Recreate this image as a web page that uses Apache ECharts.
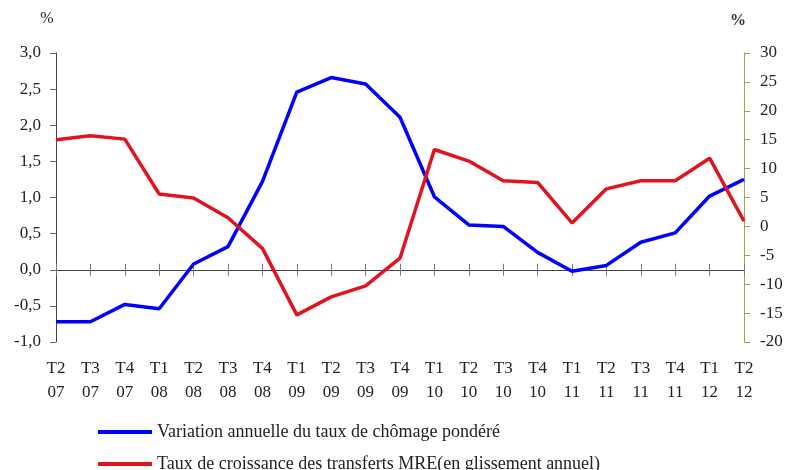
<!DOCTYPE html>
<html>
<head>
<meta charset="utf-8">
<script src="https://cdn.jsdelivr.net/npm/echarts@6/dist/echarts.min.js"></script>
<style>
  html, body { margin: 0; padding: 0; background: #fff; }
  #chart { width: 786px; height: 470px; }
</style>
</head>
<body>
<div id="chart"></div>
<script>
const quarters = ["T2\n07", "T3\n07", "T4\n07", "T1\n08", "T2\n08", "T3\n08", "T4\n08",
  "T1\n09", "T2\n09", "T3\n09", "T4\n09", "T1\n10", "T2\n10", "T3\n10", "T4\n10",
  "T1\n11", "T2\n11", "T3\n11", "T4\n11", "T1\n12", "T2\n12"];

// variation annuelle du taux de chômage pondéré (axe gauche, %)
const chomage = [-0.72, -0.72, -0.48, -0.54, 0.08, 0.32, 1.22, 2.46, 2.66, 2.57, 2.11,
  1.01, 0.62, 0.60, 0.24, -0.02, 0.06, 0.38, 0.51, 1.02, 1.25];

// transferts MRE, glissement annuel (axe droit, %)
const transferts = [15.0, 15.7, 15.1, 5.6, 4.9, 1.5, -3.8, -15.3, -12.2, -10.3, -5.5,
  13.3, 11.3, 7.9, 7.6, 0.6, 6.5, 7.9, 7.9, 11.8, 0.9];

const seriesNames = [
  "Variation annuelle du taux de chômage pondéré",
  "Taux de croissance des transferts MRE(en glissement annuel)",
];

const font = "Liberation Serif";
const textColor = "#222";

const chart = echarts.init(document.getElementById("chart"));

chart.setOption({
  animation: false,
  textStyle: { fontFamily: font },
  grid: { left: 56, right: 42, top: 53, bottom: 128, outerBoundsMode: "none" },
  legend: {
    orient: "vertical",
    left: 98,
    top: 423,
    height: 80,
    padding: 0,
    itemWidth: 54,
    itemHeight: 4,
    itemGap: 14,
    icon: "rect",
    textStyle: { fontFamily: font, fontSize: 18, lineHeight: 18, color: textColor },
    data: seriesNames,
  },
  xAxis: [
    {
      type: "category",
      data: quarters,
      boundaryGap: false,
      axisLine: { onZero: true, onZeroAxisIndex: 0, lineStyle: { color: "#444", width: 1 } },
      axisTick: { length: 6, lineStyle: { color: "#777" } },
      axisLabel: {
        margin: 15,
        fontFamily: font,
        fontSize: 17,
        lineHeight: 24,
        color: textColor,
        interval: 0,
      },
    },
    {
      type: "category",
      data: quarters,
      boundaryGap: false,
      position: "top",
      axisLine: { show: false, onZero: true, onZeroAxisIndex: 0 },
      axisTick: { show: true, length: 6, lineStyle: { color: "#777" } },
      axisLabel: { show: false },
    },
  ],
  yAxis: [
    {
      type: "value",
      min: -1,
      max: 3,
      interval: 0.5,
      name: "%",
      nameGap: 26,
      nameTextStyle: { fontFamily: font, fontSize: 16, color: textColor, padding: [0, 18, 0, 0] },
      splitLine: { show: false },
      axisLine: { show: true, lineStyle: { color: "#444" } },
      axisTick: { show: true, length: 6, lineStyle: { color: "#666" } },
      axisLabel: {
        margin: 15,
        fontFamily: font,
        fontSize: 17,
        color: textColor,
        formatter: (v) => v.toFixed(1).replace(".", ","),
      },
    },
    {
      type: "value",
      min: -20,
      max: 30,
      interval: 5,
      name: "%",
      nameGap: 24,
      nameTextStyle: { fontFamily: font, fontSize: 16, fontWeight: "bold", color: "#333", padding: [0, 12, 0, 0] },
      splitLine: { show: false },
      axisLine: { show: true, lineStyle: { color: "#a3a34a" } },
      axisTick: { show: true, length: 6, lineStyle: { color: "#a3a34a" } },
      axisLabel: { margin: 16, fontFamily: font, fontSize: 17, color: textColor },
    },
  ],
  series: [
    {
      name: seriesNames[0],
      type: "line",
      data: chomage,
      yAxisIndex: 0,
      showSymbol: false,
      color: "#0000ff",
      lineStyle: { width: 3.5, color: "#0000ff" },
    },
    {
      name: seriesNames[1],
      type: "line",
      data: transferts,
      yAxisIndex: 1,
      showSymbol: false,
      color: "#e0141e",
      lineStyle: { width: 3.5, color: "#e0141e" },
    },
  ],
});
</script>
</body>
</html>
